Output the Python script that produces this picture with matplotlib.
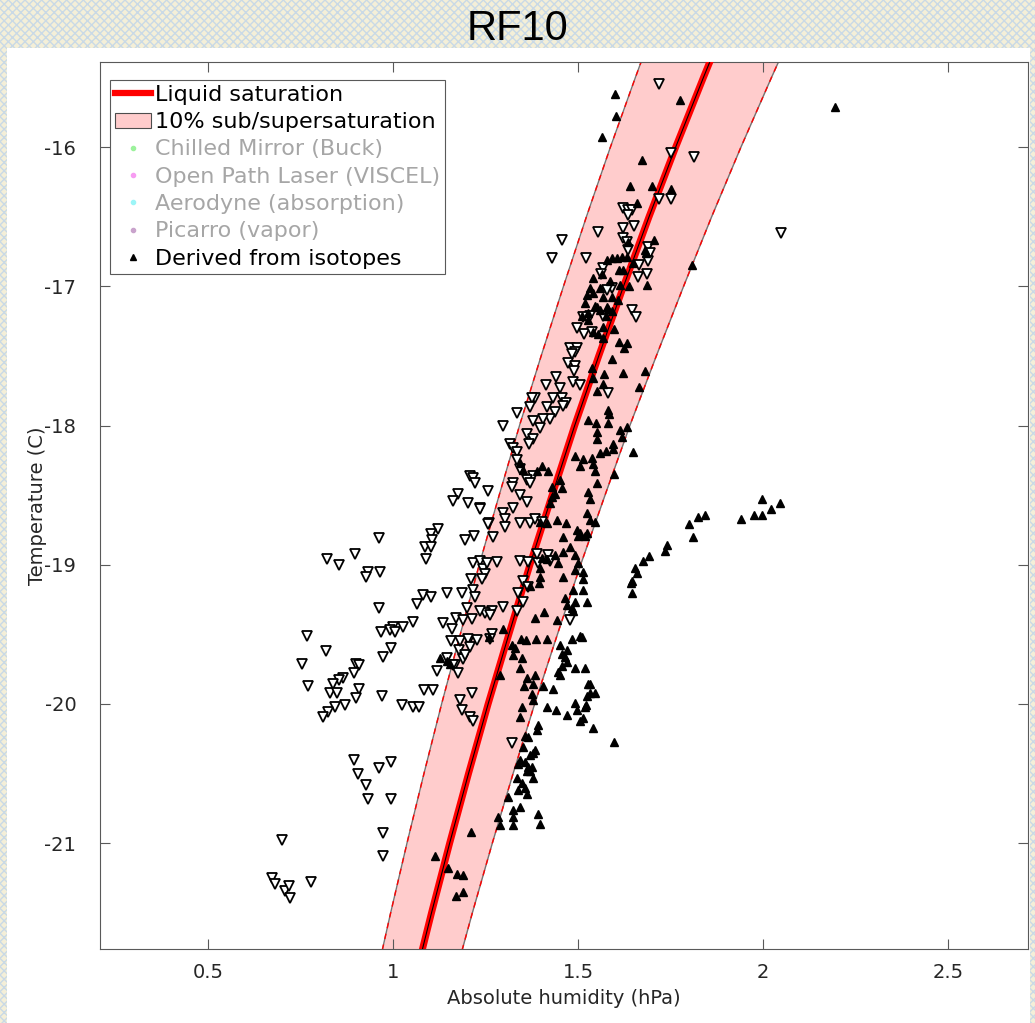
import matplotlib
matplotlib.use('Agg')
import matplotlib.pyplot as plt
from matplotlib.patches import Rectangle, Patch
from matplotlib.lines import Line2D
import numpy as np

plt.rcParams['axes.unicode_minus'] = False

# liquid saturation curve (temperature C, vapour pressure hPa)
sat_t = [-22.0, -21.5, -21.0, -20.5, -20.0, -19.5, -19.0, -18.5, -18.0,
         -17.5, -17.0, -16.5, -16.0, -15.5, -15.0]
sat_e = [1.057, 1.104, 1.153, 1.204, 1.257, 1.313, 1.370, 1.430, 1.491,
         1.556, 1.623, 1.692, 1.764, 1.839, 1.916]
band_frac = 0.10

# open down-triangles (absolute humidity, temperature)
open_pts = [
    (1.719,-15.55),(1.751,-16.04),(1.814,-16.07),(1.719,-16.37),(1.751,-16.37),
    (1.622,-16.44),(1.635,-16.45),(1.646,-16.45),(1.635,-16.49),(1.554,-16.61),
    (1.457,-16.67),(1.430,-16.80),(1.522,-16.80),(1.622,-16.58),(1.651,-16.57),
    (1.622,-16.65),(1.632,-16.68),(2.049,-16.62),(1.635,-16.74),(1.689,-16.72),
    (1.695,-16.76),(1.689,-16.82),(1.665,-16.85),(1.686,-16.91),(1.662,-16.93),
    (1.568,-16.87),(1.562,-16.91),(1.592,-17.01),(1.578,-17.03),(1.532,-17.21),
    (1.568,-17.21),(1.646,-17.17),(1.657,-17.22),(1.514,-17.22),(1.497,-17.30),
    (1.516,-17.34),(1.538,-17.33),(1.478,-17.44),(1.497,-17.44),(1.492,-17.47),
    (1.484,-17.49),(1.473,-17.55),(1.492,-17.57),(1.489,-17.61),(1.441,-17.65),
    (1.414,-17.71),(1.451,-17.73),(1.486,-17.69),(1.505,-17.71),(1.384,-17.80),
    (1.376,-17.80),(1.432,-17.80),(1.457,-17.80),(1.468,-17.84),(1.459,-17.86),
    (1.370,-17.87),(1.416,-17.87),(1.438,-17.90),(1.424,-17.95),(1.405,-17.95),
    (1.335,-17.91),(1.297,-18.00),(1.378,-17.97),(1.397,-18.02),(1.362,-18.06),
    (1.378,-18.10),(1.368,-18.13),(1.316,-18.13),(1.324,-18.16),(1.335,-18.19),
    (1.335,-18.25),(1.343,-18.31),(1.378,-18.36),(1.362,-18.39),(1.370,-18.41),
    (1.324,-18.41),(1.322,-18.44),(1.343,-18.50),(1.362,-18.55),(1.324,-18.59),
    (1.257,-18.47),(1.235,-18.59),(1.297,-18.63),(1.303,-18.67),(1.259,-18.70),
    (1.270,-18.80),(1.303,-18.73),(1.343,-18.70),(1.370,-18.70),(1.384,-18.67),
    (1.403,-18.69),(1.581,-17.77),(1.208,-18.36),(1.216,-18.38),(1.222,-18.41),
    (1.176,-18.49),(1.162,-18.54),(1.203,-18.56),(1.235,-18.60),(1.122,-18.74),
    (1.103,-18.78),(1.105,-18.82),(1.086,-18.87),(1.103,-18.87),(1.089,-18.96),
    (0.962,-18.81),(0.897,-18.92),(0.822,-18.96),(0.854,-19.00),(0.932,-19.05),
    (0.927,-19.09),(0.965,-19.05),(1.195,-18.82),(1.219,-18.79),(1.257,-18.71),
    (1.216,-18.99),(1.235,-18.97),(1.243,-19.03),(1.249,-19.07),(1.211,-19.10),
    (1.241,-19.10),(1.081,-19.22),(1.103,-19.23),(1.065,-19.28),(1.146,-19.20),
    (1.186,-19.20),(1.216,-19.18),(1.222,-19.23),(0.962,-19.31),(1.054,-19.41),
    (1.027,-19.45),(1.000,-19.45),(0.992,-19.47),(1.005,-19.48),(0.968,-19.48),
    (1.135,-19.42),(1.170,-19.38),(1.159,-19.46),(0.768,-19.51),(0.819,-19.62),
    (0.754,-19.71),(0.995,-19.60),(0.973,-19.66),(0.900,-19.71),(0.908,-19.72),
    (0.895,-19.78),(1.157,-19.55),(1.119,-19.76),(0.865,-19.81),(0.854,-19.83),
    (0.838,-19.86),(0.830,-19.92),(0.849,-19.92),(0.770,-19.87),(0.908,-19.89),
    (0.900,-19.96),(0.870,-20.01),(0.843,-20.02),(0.824,-20.06),(0.811,-20.09),
    (0.970,-19.94),(1.024,-20.01),(1.054,-20.02),(1.070,-20.02),(1.084,-19.90),
    (1.108,-19.90),(1.189,-19.68),(1.178,-19.61),(1.205,-19.54),(1.227,-19.54),
    (1.214,-19.92),(1.181,-19.97),(1.186,-20.04),(1.208,-20.09),(1.168,-19.72),
    (1.176,-19.78),(1.343,-18.97),(1.365,-18.98),(1.392,-18.99),(1.389,-18.92),
    (1.419,-18.93),(1.424,-18.97),(1.351,-19.12),(1.365,-19.16),(1.338,-19.20),
    (1.351,-19.27),(1.335,-19.33),(1.254,-18.99),(1.281,-18.98),(1.268,-19.33),
    (1.249,-19.35),(1.262,-19.36),(1.297,-19.30),(1.200,-19.31),(1.235,-19.33),
    (1.189,-19.40),(1.214,-19.39),(1.181,-19.55),(1.203,-19.53),(1.208,-19.59),
    (1.268,-19.50),(1.262,-19.53),(1.146,-19.67),(1.162,-19.72),(1.195,-19.65),
    (1.216,-20.12),(1.478,-19.40),(0.895,-20.40),(0.905,-20.50),(0.927,-20.58),
    (0.932,-20.68),(0.962,-20.46),(0.995,-20.42),(0.995,-20.68),(0.973,-20.93),
    (0.973,-21.09),(0.700,-20.98),(0.673,-21.25),(0.681,-21.29),(0.708,-21.34),
    (0.719,-21.31),(0.722,-21.39),(0.778,-21.28),(1.322,-20.28),
]

# filled up-triangles: derived from isotopes
iso_pts = [
    (1.600,-15.62),(1.776,-15.66),(1.603,-15.78),(1.565,-15.93),(1.673,-16.09),
    (1.641,-16.28),(1.700,-16.28),(1.751,-16.30),(1.659,-16.40),(1.808,-16.85),
    (1.705,-16.67),(1.635,-16.68),(1.578,-16.81),(1.592,-16.80),(1.605,-16.80),
    (1.619,-16.79),(1.632,-16.79),(1.649,-16.83),(1.681,-16.74),(1.684,-16.76),
    (1.611,-16.88),(1.622,-16.88),(1.541,-16.94),(1.565,-16.91),(1.586,-16.96),
    (1.532,-17.01),(1.559,-17.01),(1.614,-16.99),(1.638,-17.00),(1.686,-16.99),
    (1.524,-17.06),(1.541,-17.05),(1.568,-17.08),(1.592,-17.08),(1.519,-17.12),
    (1.546,-17.14),(1.578,-17.15),(1.608,-17.10),(1.511,-17.21),(1.559,-17.17),
    (1.581,-17.16),(1.592,-17.18),(1.551,-17.15),(1.527,-17.19),(1.576,-17.21),
    (1.527,-17.24),(1.568,-17.29),(1.597,-17.31),(1.541,-17.33),(1.554,-17.34),
    (1.568,-17.37),(1.611,-17.40),(1.632,-17.41),(1.624,-17.44),(1.592,-17.52),
    (1.538,-17.59),(1.570,-17.63),(1.622,-17.62),(1.681,-17.61),(1.541,-17.66),
    (1.568,-17.70),(1.551,-17.75),(1.665,-17.72),(1.581,-17.89),(1.584,-17.92),
    (1.527,-17.96),(1.549,-17.98),(1.581,-17.98),(1.551,-18.05),(1.614,-18.03),
    (1.632,-18.01),(1.619,-18.08),(1.551,-18.10),(1.595,-18.13),(1.576,-18.18),
    (1.559,-18.20),(1.595,-18.17),(1.649,-18.19),(1.492,-18.22),(1.514,-18.24),
    (1.505,-18.29),(1.541,-18.28),(1.538,-18.23),(1.403,-18.29),(1.419,-18.33),
    (1.389,-18.33),(1.343,-18.27),(1.351,-18.32),(1.546,-18.33),(1.597,-18.35),
    (1.451,-18.39),(1.457,-18.45),(1.430,-18.44),(1.438,-18.49),(1.551,-18.41),
    (1.527,-18.48),(1.532,-18.53),(1.430,-18.51),(1.424,-18.56),(1.443,-18.68),
    (1.416,-18.70),(1.397,-18.69),(1.468,-18.70),(1.524,-18.63),(1.532,-18.68),
    (1.546,-18.69),(1.497,-18.75),(1.505,-18.77),(1.524,-18.77),(1.459,-18.80),
    (1.500,-18.79),(1.519,-18.79),(1.478,-18.87),(1.459,-18.91),(1.438,-18.93),
    (1.446,-18.99),(1.492,-18.93),(1.500,-18.99),(1.492,-19.04),(1.514,-19.05),
    (1.403,-18.95),(1.416,-18.96),(1.397,-19.02),(1.459,-19.09),(1.514,-19.10),
    (1.397,-19.09),(1.395,-19.13),(1.370,-19.15),(1.654,-19.02),(1.659,-19.06),
    (1.646,-19.12),(1.646,-19.20),(1.486,-19.18),(1.514,-19.18),(1.524,-19.27),
    (1.465,-19.24),(1.470,-19.29),(1.484,-19.31),(1.492,-19.27),(1.486,-19.33),
    (1.408,-19.34),(1.384,-19.38),(1.443,-19.40),(1.297,-19.46),(1.346,-19.53),
    (1.359,-19.54),(1.386,-19.53),(1.416,-19.53),(1.484,-19.53),(1.511,-19.52),
    (1.451,-19.58),(1.470,-19.61),(1.457,-19.64),(1.465,-19.66),(1.470,-19.70),
    (1.457,-19.73),(1.446,-19.77),(1.451,-19.79),(1.322,-19.58),(1.330,-19.60),
    (1.324,-19.65),(1.349,-19.67),(1.343,-19.74),(1.289,-19.79),(1.492,-19.74),
    (1.519,-19.74),(1.362,-19.81),(1.384,-19.79),(1.354,-19.87),(1.378,-19.86),
    (1.405,-19.87),(1.376,-19.93),(1.378,-19.97),(1.432,-19.89),(1.527,-19.86),
    (1.532,-19.92),(1.546,-19.92),(1.524,-19.94),(1.349,-20.02),(1.343,-20.09),
    (1.416,-20.02),(1.441,-20.04),(1.470,-20.08),(1.492,-19.99),(1.497,-20.04),
    (1.519,-20.02),(1.505,-20.12),(1.514,-20.10),(1.541,-20.17),(1.392,-20.15),
    (1.597,-20.27),(1.389,-20.19),(1.365,-20.24),(1.357,-20.23),(1.351,-20.31),
    (1.384,-20.33),(1.378,-20.35),(1.370,-20.37),(1.343,-20.40),(1.338,-20.43),
    (1.357,-20.42),(1.365,-20.45),(1.376,-20.45),(1.370,-20.48),(1.362,-20.48),
    (1.378,-20.53),(1.335,-20.53),(1.349,-20.57),(1.338,-20.62),(1.357,-20.60),
    (1.362,-20.65),(1.311,-20.67),(1.343,-20.74),(1.324,-20.76),(1.324,-20.81),
    (1.284,-20.81),(1.289,-20.87),(1.324,-20.87),(1.392,-20.79),(1.397,-20.86),
    (1.211,-20.92),(1.114,-21.09),(1.149,-21.18),(1.173,-21.22),(1.189,-21.23),
    (1.170,-21.38),(1.189,-21.35),(1.997,-18.53),(2.046,-18.56),(2.022,-18.60),
    (1.997,-18.64),(1.976,-18.64),(1.941,-18.67),(1.843,-18.64),(1.824,-18.66),
    (1.800,-18.71),(1.811,-18.80),(1.741,-18.86),(1.735,-18.90),(1.692,-18.94),
    (1.676,-18.97),(1.643,-19.13),(1.505,-19.51),(1.532,-19.86),(1.522,-20.01),
    (2.195,-15.71),(1.127,-19.67),(1.146,-19.69),(1.154,-19.71),(1.259,-19.52),
]

legend_labels = ['Liquid saturation', '10% sub/supersaturation',
                 'Chilled Mirror (Buck)', 'Open Path Laser (VISCEL)',
                 'Aerodyne (absorption)', 'Picarro (vapor)',
                 'Derived from isotopes']
instrument_colors = ['#9CF29C', '#F79CF2', '#9CF5F7', '#C9A3CC']

xticks = [0.5, 1, 1.5, 2, 2.5]
xticklabels = ['0.5', '1', '1.5', '2', '2.5']
yticks = [-21, -20, -19, -18, -17, -16]

#%%
fig = plt.figure(figsize=(10.35, 10.23), dpi=100)

# patterned page background + white panel
fig.patches.append(Rectangle((0, 0), 1, 1, transform=fig.transFigure,
                             facecolor='#F4EFD8', edgecolor='#C9D9E6',
                             hatch='xxxx', lw=0, zorder=-10))
fig.patches.append(Rectangle((7/1035, 0), 1023/1035, 975/1023,
                             transform=fig.transFigure, facecolor='white',
                             lw=0, zorder=-9))

ax = fig.add_axes([0.0966, 0.0723, 0.8966, 0.867])
ax.set_facecolor('white')

sat_e = np.array(sat_e)
lo = sat_e * (1 - band_frac)
hi = sat_e * (1 + band_frac)

# band
ax.fill_betweenx(sat_t, lo, hi, color='#FFCCCC', lw=0, zorder=1)
for edge in (lo, hi):
    ax.plot(edge, sat_t, color='0.45', lw=1.0, zorder=2)
    ax.plot(edge, sat_t, color='red', lw=1.0, ls=(0, (4, 4)), zorder=2)

# saturation line
ax.plot(sat_e, sat_t, color='red', lw=5, zorder=3)
ax.plot(sat_e, sat_t, color='black', lw=0.8, zorder=3)

ox, oy = zip(*open_pts)
ax.plot(ox, oy, ls='none', marker='v', ms=7, mfc='white', mec='black',
        mew=1.3, zorder=4)
ix, iy = zip(*iso_pts)
ax.plot(ix, iy, ls='none', marker='^', ms=6, color='black', zorder=5)

ax.set_xlim(0.208, 2.716)
ax.set_ylim(-21.76, -15.39)
ax.set_xticks(xticks)
ax.set_xticklabels(xticklabels)
ax.set_yticks(yticks)
ax.tick_params(direction='in', length=7, width=0.8, top=True, right=True,
               color='0.35', labelsize=14, labelcolor='#262626')
ax.tick_params(axis='y', pad=17)
ax.tick_params(axis='x', pad=10)
for s in ax.spines.values():
    s.set_color('0.35')
    s.set_linewidth(0.8)

ax.set_xlabel('Absolute humidity (hPa)', fontsize=14, color='#262626', labelpad=5)
ax.set_ylabel('Temperature (C)', fontsize=14, color='#262626')
ax.yaxis.set_label_coords(-0.057, 0.5)

fig.text(0.5, 0.972, 'RF10', ha='center', va='center', fontsize=30,
         family='Liberation Sans', color='black')

# legend
handles = [Line2D([], [], color='red', lw=4.5),
           Patch(facecolor='#FFCCCC', edgecolor='0.3', lw=0.8)]
for c in instrument_colors:
    handles.append(Line2D([], [], ls='none', marker='o', ms=3, color=c))
handles.append(Line2D([], [], ls='none', marker='^', ms=5, color='black'))

leg = ax.legend(handles, legend_labels, loc='upper left',
                bbox_to_anchor=(0.011, 0.980), borderaxespad=0, fontsize=16,
                frameon=True, fancybox=False, framealpha=1, edgecolor='0.35',
                handlelength=1.6, handletextpad=0.18, borderpad=0.22,
                labelspacing=0.33)
leg.get_frame().set_linewidth(0.8)
for t in leg.get_texts()[2:6]:
    t.set_color('#A6A6A6')

fig.savefig('out.png', dpi=100)
